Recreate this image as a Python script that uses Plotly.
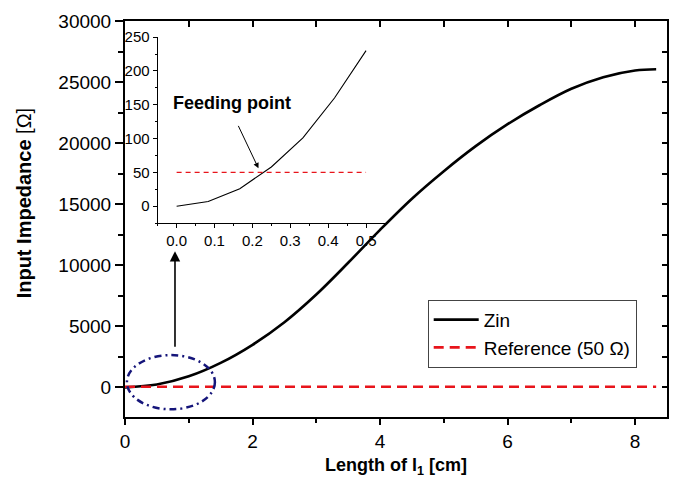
import plotly.graph_objects as go

# Input impedance of the feed line versus its length l1
length_cm = [0, 0.5, 1.0, 1.5, 2.0, 2.5, 3.0, 3.5, 4.0, 4.5, 5.0, 5.5,
             6.0, 6.5, 7.0, 7.5, 8.0, 8.33]
zin_ohm = [0, 230, 900, 2000, 3480, 5330, 7600, 10200, 12900, 15450, 17700,
           19750, 21550, 23100, 24450, 25400, 25950, 26050]
reference_ohm = 50

# Zoomed-in view of the first half centimetre
inset_len_cm = [0, 0.0833, 0.1667, 0.25, 0.3333, 0.4167, 0.5]
inset_zin_ohm = [0, 7, 26, 58, 101, 160, 230]

FONT = "Liberation Sans, Arial, sans-serif"
X_RANGE = [0, 8.5]
Y_RANGE = [-2430, 30000]

fig = go.Figure()

fig.add_trace(go.Scatter(
    x=length_cm, y=zin_ohm, name="Zin", mode="lines",
    line=dict(color="black", width=2.6, shape="spline", smoothing=1.0),
))
fig.add_trace(go.Scatter(
    x=[length_cm[0], length_cm[-1]], y=[reference_ohm, reference_ohm],
    name="Reference (50 \u03a9)", mode="lines",
    line=dict(color="#e8141b", width=2.6, dash="10px,6px"),
))

# helper trace so the mirrored top/right axes get drawn
fig.add_trace(go.Scatter(
    x=[X_RANGE[0]], y=[Y_RANGE[0]], xaxis="x2", yaxis="y2", mode="markers",
    marker=dict(opacity=0), showlegend=False, hoverinfo="skip",
))

# inset traces
fig.add_trace(go.Scatter(
    x=inset_len_cm, y=inset_zin_ohm, xaxis="x3", yaxis="y3", mode="lines",
    line=dict(color="black", width=1.1), showlegend=False,
))
fig.add_trace(go.Scatter(
    x=[inset_len_cm[0], inset_len_cm[-1]], y=[reference_ohm, reference_ohm],
    xaxis="x3", yaxis="y3", mode="lines",
    line=dict(color="#e8141b", width=1.3, dash="5px,4px"), showlegend=False,
))

axis_common = dict(showgrid=False, zeroline=False, showline=True,
                   linecolor="black", tickcolor="black")

fig.update_layout(
    width=678, height=483,
    margin=dict(l=125, r=11, t=17, b=65),
    paper_bgcolor="white", plot_bgcolor="white",
    font=dict(family=FONT, size=19, color="black"),
    xaxis=dict(
        **axis_common, range=X_RANGE, linewidth=2,
        tick0=0, dtick=2, ticks="outside", ticklen=6, tickwidth=2,
        minor=dict(dtick=1, ticks="outside", ticklen=4, tickwidth=2,
                   tickcolor="black"),
        title=dict(text="<b>Length of l<sub>1</sub> [cm]</b>",
                   font=dict(size=18), standoff=8),
    ),
    yaxis=dict(
        **axis_common, range=Y_RANGE, linewidth=2, tickformat="d",
        tick0=0, dtick=5000, ticks="outside", ticklen=8, tickwidth=2,
        minor=dict(dtick=2500, ticks="outside", ticklen=5, tickwidth=2,
                   tickcolor="black"),
    ),
    xaxis2=dict(
        **axis_common, range=X_RANGE, overlaying="x", side="top", anchor="y",
        linewidth=2, tick0=0, dtick=1, ticks="inside", ticklen=6,
        tickwidth=2, showticklabels=False,
    ),
    yaxis2=dict(
        **axis_common, range=Y_RANGE, overlaying="y", side="right",
        anchor="x", linewidth=2, tick0=0, dtick=2500, ticks="inside",
        ticklen=5, tickwidth=2, showticklabels=False,
    ),
    xaxis3=dict(
        **axis_common, domain=[0.0603, 0.4797], anchor="y3",
        range=[-0.05, 0.55], linewidth=1.2, tick0=0, dtick=0.1,
        tickformat=".1f", ticks="outside", ticklen=4, tickwidth=1,
        minor=dict(dtick=0.05, ticks="outside", ticklen=2, tickwidth=1,
                   tickcolor="black"),
        tickfont=dict(size=15),
    ),
    yaxis3=dict(
        **axis_common, domain=[0.4895, 0.9593], anchor="x3",
        range=[-25, 250], linewidth=1.2, tick0=0, dtick=50,
        ticks="outside", ticklen=4, tickwidth=1,
        minor=dict(dtick=25, ticks="outside", ticklen=2, tickwidth=1,
                   tickcolor="black"),
        tickfont=dict(size=15),
    ),
    legend=dict(
        x=0.5585, y=0.296, xanchor="left", yanchor="top",
        bgcolor="white", bordercolor="#444", borderwidth=1,
        font=dict(size=19), itemwidth=45, tracegroupgap=0,
    ),
    showlegend=True,
)

# dash-dot ellipse marking the region shown in the inset
fig.add_shape(
    type="circle", xref="x", yref="y",
    x0=0.03, x1=1.41, y0=-1800, y1=2640,
    line=dict(color="#15157a", width=2.5, dash="7px,4px,2px,4px"),
)

annotations = [
    # y axis title
    dict(text="<b>Input Impedance</b> [\u03a9]", xref="paper", yref="paper",
         x=-0.186, y=0.54, textangle=-90, showarrow=False,
         font=dict(size=20), xanchor="center", yanchor="middle"),
    # arrow from the ellipse up to the inset
    dict(x=0.784, y=11150, ax=0.784, ay=3200, xref="x", yref="y",
         axref="x", ayref="y", text="", showarrow=True, arrowhead=2,
         arrowsize=1.3, arrowwidth=1.6, arrowcolor="black"),
    # feeding point label and arrow in the inset
    dict(text="<b>Feeding point</b>", xref="x3", yref="y3", x=0.145, y=152,
         showarrow=False, font=dict(size=18)),
    dict(x=0.216, y=56, ax=0.161, ay=121, xref="x3", yref="y3",
         axref="x3", ayref="y3", text="", showarrow=True, arrowhead=2,
         arrowsize=1.1, arrowwidth=1, arrowcolor="black"),
]
fig.update_layout(annotations=annotations)

fig.write_html("out.html")
